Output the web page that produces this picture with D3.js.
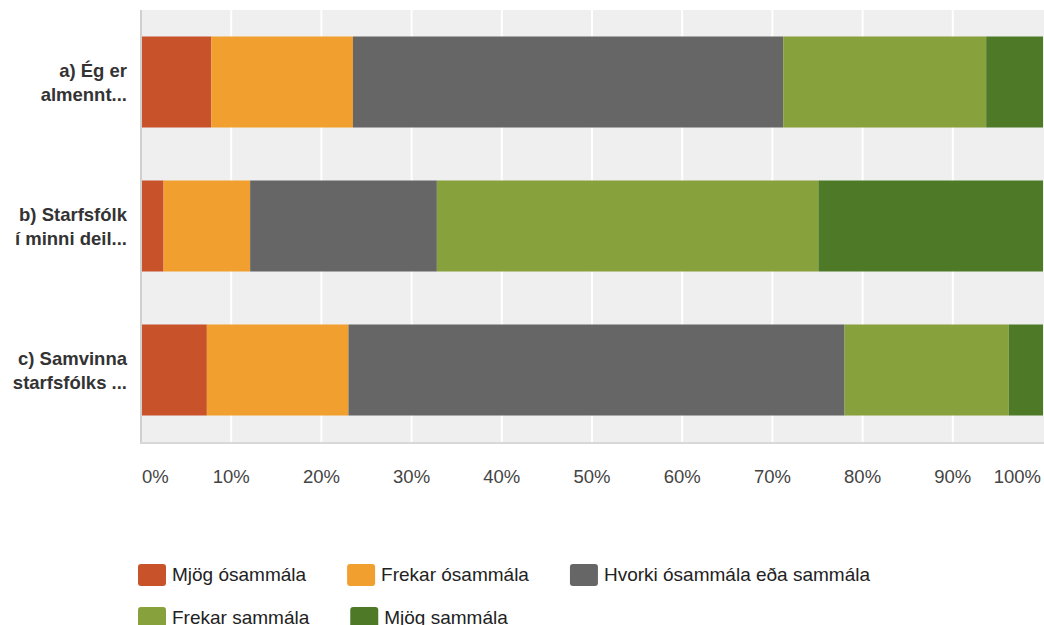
<!DOCTYPE html>
<html><head><meta charset="utf-8">
<script src="https://cdn.jsdelivr.net/npm/d3@7/dist/d3.min.js"></script>
<style>body{margin:0;background:#fff;}svg{display:block;font-family:"Liberation Sans",Arial,sans-serif;}</style>
</head><body><svg id="c" width="1044" height="625"></svg>
<script>
const categories = [["a) Ég er","almennt..."],["b) Starfsfólk","í minni deil..."],["c) Samvinna","starfsfólks ..."]];
const seriesNames = ["Mjög ósammála","Frekar ósammála","Hvorki ósammála eða sammála","Frekar sammála","Mjög sammála"];
const colors = ["#c8532a","#f19f2e","#666666","#87a13d","#4e7a28"];
const s1 = [7.8, 2.5, 7.3];
const s2 = [15.7, 9.6, 15.7];
const s3 = [47.7, 20.7, 55.0];
const s4 = [22.5, 42.3, 18.2];
const s5 = [6.3, 24.9, 3.8];
const tickValues = [0,10,20,30,40,50,60,70,80,90,100];
const tickLabels = ["0%","10%","20%","30%","40%","50%","60%","70%","80%","90%","100%"];

const series = [s1,s2,s3,s4,s5];
const svg = d3.select("#c");
const L = 141, R = 1043, T = 10, B = 442;
const x = d3.scaleLinear().domain([0,100]).range([L,R]);
const y = d3.scaleBand().domain(d3.range(categories.length)).range([T,B]).paddingInner(0.368).paddingOuter(0.184);

svg.append("rect").attr("x",L).attr("y",T).attr("width",1044-L).attr("height",B-T).attr("fill","#efefef");
svg.append("g").selectAll("line").data(tickValues.slice(1,-1)).join("line")
  .attr("x1",d=>x(d)).attr("x2",d=>x(d)).attr("y1",T).attr("y2",B)
  .attr("stroke","#fff").attr("stroke-width",2);

const rows = categories.map((c,i)=>{let acc=0;return series.map((s,k)=>{const v0=acc;acc+=s[i];return {i,k,v0,v1:acc};});});
svg.append("g").selectAll("rect").data(rows.flat()).join("rect")
  .attr("x",d=>x(d.v0)).attr("width",d=>x(d.v1)-x(d.v0))
  .attr("y",d=>y(d.i)).attr("height",y.bandwidth())
  .attr("fill",d=>colors[d.k]);

svg.append("line").attr("x1",L).attr("x2",L).attr("y1",T).attr("y2",B+2).attr("stroke","#d0d0d0").attr("stroke-width",2);
svg.append("line").attr("x1",L-1).attr("x2",1044).attr("y1",B+1).attr("y2",B+1).attr("stroke","#d8d8d8").attr("stroke-width",2);

// category labels
const cl = svg.append("g");
categories.forEach((c,i)=>{
  const cy = y(i)+y.bandwidth()/2;
  const t = cl.append("text").attr("text-anchor","end").attr("fill","#333").attr("font-weight","bold").attr("font-size",18.5);
  t.append("tspan").attr("x",127).attr("y",cy-5.5).text(c[0]);
  t.append("tspan").attr("x",127).attr("y",cy+19).text(c[1]);
});

// tick labels
svg.append("g").selectAll("text").data(tickValues).join("text")
  .attr("x",(d,i)=> i===0 ? L+1 : (i===tickValues.length-1 ? 1041 : x(d)))
  .attr("text-anchor",(d,i)=> i===0 ? "start" : (i===tickValues.length-1 ? "end" : "middle"))
  .attr("y",483).attr("fill","#444").attr("font-size",18.5)
  .text((d,i)=>tickLabels[i]);

// legend (flow layout)
const lg = svg.append("g");
let lx = 138, ly = 564;
seriesNames.forEach((n,k)=>{
  const g = lg.append("g");
  const t = g.append("text").attr("font-size",19).attr("fill","#222").text(n);
  const w = 28 + 6 + t.node().getComputedTextLength();
  if (lx + w > 1044) { lx = 138; ly += 43; }
  g.append("rect").attr("x",lx).attr("y",ly).attr("width",28).attr("height",22).attr("rx",3).attr("fill",colors[k]);
  t.attr("x",lx+34).attr("y",ly+17);
  lx += w + 41;
});
</script></body></html>
